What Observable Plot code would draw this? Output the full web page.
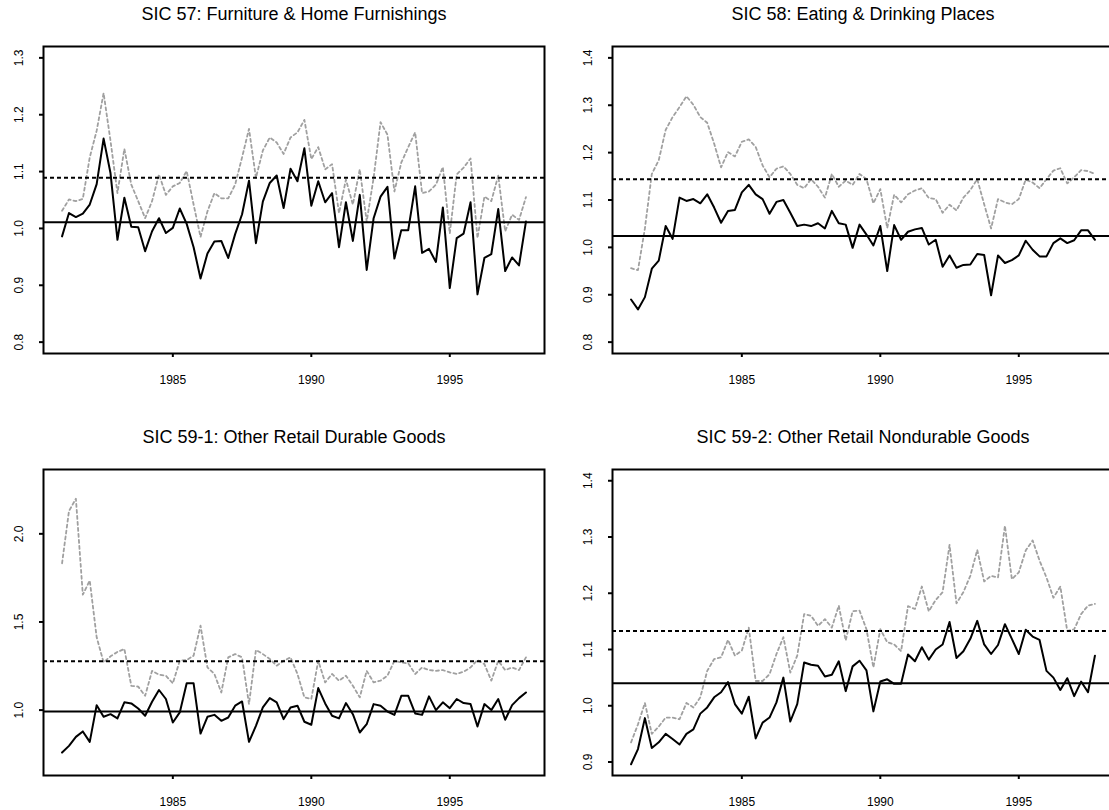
<!DOCTYPE html>
<html><head><meta charset="utf-8">
<script src="https://cdn.jsdelivr.net/npm/d3@7"></script>
<script src="https://cdn.jsdelivr.net/npm/@observablehq/plot@0.6"></script>
<style>
html,body{margin:0;padding:0;background:#fff;}
#root{position:relative;width:1109px;height:810px;overflow:hidden;font-family:"Liberation Sans",Arial,Helvetica,sans-serif;}
.panel{position:absolute;width:556px;}
.panel svg{max-width:none !important;}
</style></head><body><div id="root"></div>
<script>
// Quarterly observations 1981Q1 .. 1997Q4
const quarters = d3.range(68).map(i => 1981 + i / 4);
const xTicks = [1985, 1990, 1995];

const titles = [
  "SIC 57: Furniture & Home Furnishings",
  "SIC 58: Eating & Drinking Places",
  "SIC 59-1: Other Retail Durable Goods",
  "SIC 59-2: Other Retail Nondurable Goods"
];

const sic57Solid = [0.986,1.027,1.020,1.026,1.042,1.078,1.158,1.097,0.980,1.054,1.003,1.002,0.960,0.995,1.018,0.992,1.001,1.035,1.008,0.967,0.912,0.956,0.977,0.978,0.948,0.990,1.025,1.084,0.974,1.047,1.080,1.093,
  1.036,1.105,1.083,1.141,1.040,1.083,1.046,1.062,0.967,1.046,0.978,1.059,0.927,1.018,1.056,1.073,0.947,0.997,0.997,1.074,0.957,0.964,0.941,1.037,0.895,0.983,0.991,1.046,0.884,0.948,0.955,1.034,0.925,0.949,0.935,1.012];
const sic57Dashed = [1.031,1.051,1.048,1.052,1.125,1.172,1.238,1.154,1.062,1.140,1.077,1.048,1.018,1.048,1.095,1.059,1.074,1.080,1.101,1.042,0.985,1.030,1.062,1.053,1.053,1.077,1.125,1.175,1.089,1.137,1.160,1.151,
  1.131,1.160,1.169,1.191,1.122,1.143,1.104,1.113,1.027,1.086,1.042,1.104,1.012,1.089,1.187,1.165,1.065,1.116,1.143,1.169,1.062,1.065,1.077,1.108,0.991,1.095,1.107,1.123,0.983,1.056,1.048,1.093,0.995,1.024,1.015,1.055];

const sic58Solid = [0.890,0.869,0.895,0.955,0.972,1.045,1.018,1.105,1.098,1.102,1.093,1.112,1.084,1.052,1.077,1.079,1.116,1.132,1.112,1.102,1.071,1.096,1.100,1.073,1.045,1.048,1.045,1.051,1.040,1.077,
  1.051,1.048,0.999,1.048,1.027,1.004,1.045,0.950,1.047,1.016,1.033,1.038,1.041,1.006,1.016,0.959,0.983,0.957,0.963,0.964,0.986,0.984,0.899,0.983,0.967,0.973,0.983,1.014,0.995,0.981,0.981,1.009,1.019,1.009,1.015,1.036,1.036,1.016];
const sic58Dashed = [0.956,0.952,1.040,1.155,1.184,1.248,1.275,1.296,1.319,1.301,1.275,1.263,1.219,1.169,1.201,1.192,1.223,1.228,1.212,1.173,1.148,1.166,1.171,1.155,1.132,1.125,1.144,1.128,1.105,1.155,
  1.128,1.141,1.132,1.155,1.144,1.093,1.123,1.041,1.111,1.095,1.112,1.120,1.125,1.104,1.102,1.073,1.090,1.078,1.105,1.121,1.144,1.091,1.040,1.102,1.095,1.091,1.102,1.143,1.137,1.125,1.144,1.162,1.167,1.135,1.148,1.163,1.161,1.155];

const sic591Solid = [0.759,0.797,0.848,0.879,0.820,1.028,0.962,0.977,0.953,1.044,1.038,1.009,0.968,1.047,1.114,1.063,0.930,0.987,1.152,1.152,0.867,0.962,0.973,0.939,0.958,1.025,1.049,0.820,0.911,1.015,1.068,1.044,
  0.949,1.015,1.025,0.934,0.917,1.125,1.038,0.968,0.953,1.040,0.977,0.873,0.920,1.034,1.025,0.992,0.973,1.081,1.081,0.981,0.973,1.078,1.000,1.044,1.011,1.063,1.040,1.034,0.907,1.034,1.000,1.063,0.945,1.028,1.068,1.100];
const sic591Dashed = [1.833,2.129,2.199,1.655,1.735,1.413,1.271,1.305,1.330,1.347,1.138,1.133,1.081,1.223,1.201,1.195,1.152,1.280,1.284,1.309,1.479,1.242,1.205,1.100,1.299,1.318,1.299,1.034,1.341,1.318,1.290,1.252,
  1.280,1.299,1.205,1.072,1.063,1.280,1.157,1.205,1.167,1.195,1.138,1.072,1.223,1.157,1.167,1.195,1.280,1.271,1.265,1.205,1.242,1.227,1.223,1.227,1.214,1.205,1.218,1.242,1.284,1.261,1.167,1.280,1.227,1.242,1.227,1.299];

const sic592Solid = [0.896,0.923,0.978,0.925,0.935,0.950,0.941,0.931,0.950,0.958,0.986,0.997,1.015,1.024,1.042,1.003,0.986,1.016,0.942,0.970,0.979,1.006,1.050,0.972,1.003,1.077,1.073,1.071,1.052,1.055,
  1.079,1.026,1.070,1.080,1.063,0.990,1.043,1.047,1.039,1.039,1.091,1.079,1.104,1.082,1.100,1.109,1.149,1.085,1.097,1.119,1.151,1.109,1.092,1.108,1.145,1.119,1.092,1.135,1.123,1.117,1.062,1.050,1.028,1.049,1.017,1.043,1.024,1.089];
const sic592Dashed = [0.935,0.967,1.005,0.950,0.963,0.979,0.979,0.976,1.005,0.997,1.015,1.062,1.083,1.086,1.117,1.089,1.098,1.139,1.044,1.044,1.056,1.092,1.122,1.059,1.089,1.163,1.160,1.142,1.154,1.139,
  1.178,1.116,1.168,1.169,1.136,1.068,1.136,1.113,1.109,1.097,1.177,1.172,1.212,1.168,1.188,1.202,1.286,1.182,1.202,1.231,1.277,1.221,1.231,1.228,1.320,1.225,1.237,1.276,1.294,1.258,1.228,1.192,1.212,1.133,1.136,1.163,1.178,1.181];

const meanSolid  = [1.0107, 1.024, 0.992, 1.040];
const meanDashed = [1.089, 1.144, 1.277, 1.133];

const yTicks = [
  [0.8, 0.9, 1.0, 1.1, 1.2, 1.3],
  [0.8, 0.9, 1.0, 1.1, 1.2, 1.3, 1.4],
  [1.0, 1.5, 2.0],
  [0.9, 1.0, 1.1, 1.2, 1.3, 1.4]
];
const yDomains = [[0.78, 1.32], [0.776, 1.424], [0.629, 2.365], [0.876, 1.420]];
const xDomain = [1980.33, 1998.42];

const panels = [
  {title: titles[0], solid: sic57Solid,  dashed: sic57Dashed,  left: 0,     top: 0,   fh: 307},
  {title: titles[1], solid: sic58Solid,  dashed: sic58Dashed,  left: 568.5, top: 0,   fh: 307},
  {title: titles[2], solid: sic591Solid, dashed: sic591Dashed, left: 0,     top: 423, fh: 306},
  {title: titles[3], solid: sic592Solid, dashed: sic592Dashed, left: 568.5, top: 423, fh: 306}
];

const root = document.getElementById("root");
const FONT = '"Liberation Sans", Arial, Helvetica, sans-serif';

panels.forEach((p, k) => {
  const data = quarters.map((t, i) => ({t, solid: p.solid[i], dashed: p.dashed[i]}));
  const mt = 46, mb = 45;
  const chart = Plot.plot({
    width: 556,
    height: mt + p.fh + mb,
    marginLeft: 43, marginRight: 12, marginTop: mt, marginBottom: mb,
    x: {domain: xDomain},
    y: {domain: yDomains[k]},
    style: {fontFamily: FONT, fontSize: "12px", background: "transparent", color: "#000", overflow: "visible", maxWidth: "none"},
    marks: [
      Plot.lineY(data, {x: "t", y: "dashed", stroke: "#a0a0a0", strokeWidth: 1.8, strokeDasharray: "3,3"}),
      Plot.lineY(data, {x: "t", y: "solid", stroke: "#000", strokeWidth: 2}),
      Plot.ruleY([meanSolid[k]], {stroke: "#000", strokeWidth: 2}),
      Plot.ruleY([meanDashed[k]], {stroke: "#000", strokeWidth: 2, strokeDasharray: "4,3"}),
      Plot.frame({stroke: "#000", strokeWidth: 2}),
      Plot.axisX({ticks: xTicks, tickSize: 4, tickPadding: 18, tickFormat: d => String(d), label: null, strokeWidth: 2}),
      Plot.axisY({ticks: yTicks[k], tickSize: 4, tickPadding: 17, tickRotate: -90, tickFormat: d3.format(".1f"), label: null, strokeWidth: 2}),
      Plot.text([p.title], {text: d => d, frameAnchor: "top", lineAnchor: "middle", dy: -32, fontSize: 18, fill: "#000"})
    ]
  });
  const div = document.createElement("div");
  div.className = "panel";
  div.style.left = p.left + "px";
  div.style.top = p.top + "px";
  div.appendChild(chart);
  root.appendChild(div);
});
</script>
</body></html>
